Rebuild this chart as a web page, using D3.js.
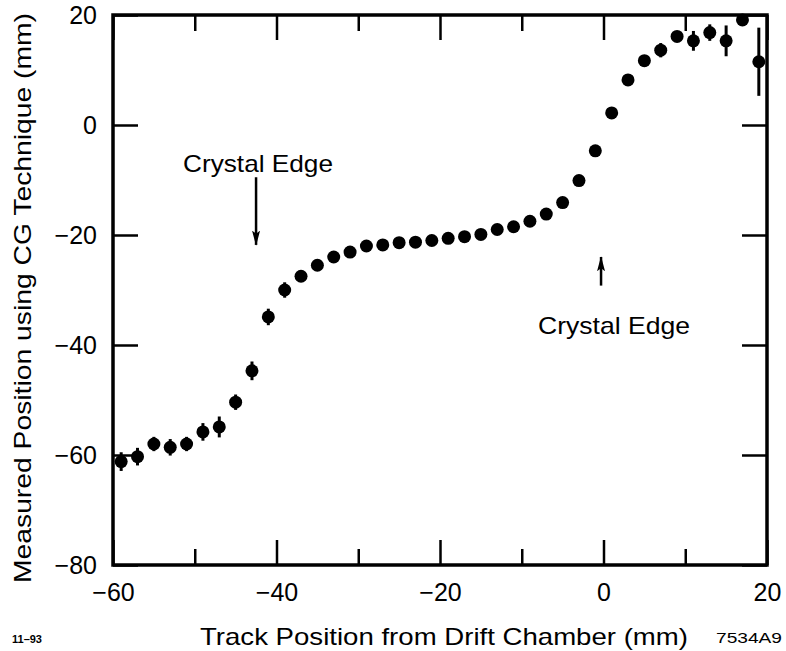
<!DOCTYPE html>
<html>
<head>
<meta charset="utf-8">
<script src="https://cdn.jsdelivr.net/npm/d3@7"></script>
<style>
  body { margin: 0; background: #fff; }
  text { font-family: "Liberation Sans", Arial, Helvetica, sans-serif; fill: #000; }
</style>
</head>
<body>
<div id="chart"></div>
<script>
/* data (mm) */
var trackPos = [-59, -57, -55, -53, -51, -49, -47, -45, -43, -41,
                -39, -37, -35, -33, -31, -29, -27, -25, -23, -21,
                -19, -17, -15, -13, -11, -9, -7, -5, -3, -1,
                1, 3, 5, 7, 9, 11, 13, 15, 17, 19];
var measuredPos = [-61.2, -60.3, -58.0, -58.6, -58.0, -55.8, -54.9, -50.4, -44.7, -34.9,
                   -30.0, -27.5, -25.5, -24.0, -23.1, -22.0, -21.8, -21.4, -21.3, -21.0,
                   -20.6, -20.3, -19.9, -19.0, -18.5, -17.5, -16.2, -14.1, -10.1, -4.7,
                   2.2, 8.2, 11.7, 13.6, 16.1, 15.3, 16.8, 15.3, 19.1, 11.5];
var errors = [1.7, 1.6, 1.3, 1.5, 1.3, 1.6, 1.9, 1.4, 1.7, 1.5,
              1.4, 1.0, 0.8, 0.8, 0.8, 0.8, 0.8, 0.8, 0.8, 0.8,
              0.8, 0.8, 0.8, 0.8, 0.8, 0.8, 0.8, 0.8, 0.8, 0.8,
              0.8, 0.8, 0.8, 1.3, 0.9, 1.8, 1.5, 2.8, 0.6, 6.2];

var xMajorTicks = [-60, -40, -20, 0, 20];
var xMinorTicks = [-50, -30, -10, 10];
var yTicks = [20, 0, -20, -40, -60, -80];

var edgeLabels = ["Crystal Edge", "Crystal Edge"];
var edgeX = [-42.5, -0.3];         // track position of the arrows
var edgeArrowFrom = [-9.5, -29.2]; // arrow tail (measured mm)
var edgeArrowTo = [-21.8, -24.0];  // arrow tip

var width = 786, height = 651;
var plotLeft = 113, plotRight = 767, plotTop = 15, plotBottom = 565;

var svg = d3.select("#chart").append("svg")
    .attr("width", width)
    .attr("height", height);

var x = d3.scaleLinear().domain([-60, 20]).range([plotLeft, plotRight]);
var y = d3.scaleLinear().domain([-80, 20]).range([plotBottom, plotTop]);

var fmt = function(d) { return d3.format("d")(d).replace("-", "\u2212"); };

/* bottom axis with labels */
var gx = svg.append("g")
    .attr("transform", "translate(0," + plotBottom + ")")
    .call(d3.axisBottom(x).tickValues(xMajorTicks).tickSizeInner(-25).tickSizeOuter(0)
        .tickPadding(18).tickFormat(fmt));
gx.append("g")
    .call(d3.axisBottom(x).tickValues(xMinorTicks).tickSizeInner(-16).tickSizeOuter(0).tickFormat(""));

/* top axis, ticks only */
var gt = svg.append("g")
    .attr("transform", "translate(0," + plotTop + ")")
    .call(d3.axisTop(x).tickValues(xMajorTicks).tickSizeInner(-25).tickSizeOuter(0).tickFormat(""));
gt.append("g")
    .call(d3.axisTop(x).tickValues(xMinorTicks).tickSizeInner(-16).tickSizeOuter(0).tickFormat(""));

/* left axis with labels */
svg.append("g")
    .attr("transform", "translate(" + plotLeft + ",0)")
    .call(d3.axisLeft(y).tickValues(yTicks).tickSizeInner(-25).tickSizeOuter(0)
        .tickPadding(16).tickFormat(fmt));

/* right axis, ticks only */
svg.append("g")
    .attr("transform", "translate(" + plotRight + ",0)")
    .call(d3.axisRight(y).tickValues(yTicks).tickSizeInner(-25).tickSizeOuter(0).tickFormat(""));

svg.selectAll(".domain").remove();
svg.selectAll(".tick line").attr("stroke", "#000").attr("stroke-width", 2.5);
svg.selectAll(".tick text")
    .style("font-size", "25px")
    .attr("fill", "#000");

/* frame */
svg.append("rect")
    .attr("x", plotLeft)
    .attr("y", plotTop)
    .attr("width", plotRight - plotLeft)
    .attr("height", plotBottom - plotTop)
    .attr("fill", "none")
    .attr("stroke", "#000")
    .attr("stroke-width", 3.5);

/* error bars then points */
svg.append("g").selectAll("line")
    .data(trackPos)
    .enter()
    .append("line")
    .attr("x1", function(d) { return x(d); })
    .attr("x2", function(d) { return x(d); })
    .attr("y1", function(d, i) { return y(measuredPos[i] - errors[i]); })
    .attr("y2", function(d, i) { return y(measuredPos[i] + errors[i]); })
    .attr("stroke", "#000")
    .attr("stroke-width", 3);

svg.append("g").selectAll("circle")
    .data(trackPos)
    .enter()
    .append("circle")
    .attr("cx", function(d) { return x(d); })
    .attr("cy", function(d, i) { return y(measuredPos[i]); })
    .attr("r", 6.5)
    .attr("fill", "#000");

/* crystal edge arrows */
svg.append("defs").append("marker")
    .attr("id", "head")
    .attr("viewBox", "0 0 20 10")
    .attr("refX", 19)
    .attr("refY", 5)
    .attr("markerWidth", 15)
    .attr("markerHeight", 8)
    .attr("markerUnits", "userSpaceOnUse")
    .attr("orient", "auto")
    .attr("preserveAspectRatio", "none")
    .append("path")
    .attr("d", "M0,0 L20,5 L0,10 L4,5 Z")
    .attr("fill", "#000");

edgeX.forEach(function(ex, i) {
    svg.append("line")
        .attr("x1", x(ex))
        .attr("x2", x(ex))
        .attr("y1", y(edgeArrowFrom[i]))
        .attr("y2", y(edgeArrowTo[i]))
        .attr("stroke", "#000")
        .attr("stroke-width", 2.5)
        .attr("marker-end", "url(#head)");
});

svg.append("text")
    .attr("x", 183)
    .attr("y", 172)
    .attr("textLength", 150)
    .attr("lengthAdjust", "spacingAndGlyphs")
    .style("font-size", "24px")
    .text(edgeLabels[0]);

svg.append("text")
    .attr("x", 538)
    .attr("y", 334)
    .attr("textLength", 152)
    .attr("lengthAdjust", "spacingAndGlyphs")
    .style("font-size", "24px")
    .text(edgeLabels[1]);

/* axis titles */
svg.append("text")
    .attr("x", 200)
    .attr("y", 645)
    .attr("textLength", 488)
    .attr("lengthAdjust", "spacingAndGlyphs")
    .style("font-size", "24px")
    .text("Track Position from Drift Chamber  (mm)");

svg.append("text")
    .attr("transform", "translate(31,298) rotate(-90)")
    .attr("text-anchor", "middle")
    .attr("textLength", 570)
    .attr("lengthAdjust", "spacingAndGlyphs")
    .style("font-size", "24px")
    .text("Measured Position using CG Technique  (mm)");

/* figure codes */
svg.append("text")
    .attr("x", 12)
    .attr("y", 643)
    .style("font-size", "11px")
    .style("font-weight", "bold")
    .text("11\u201393");

svg.append("text")
    .attr("x", 716)
    .attr("y", 643)
    .attr("textLength", 66)
    .attr("lengthAdjust", "spacingAndGlyphs")
    .style("font-size", "15px")
    .text("7534A9");
</script>
</body>
</html>
